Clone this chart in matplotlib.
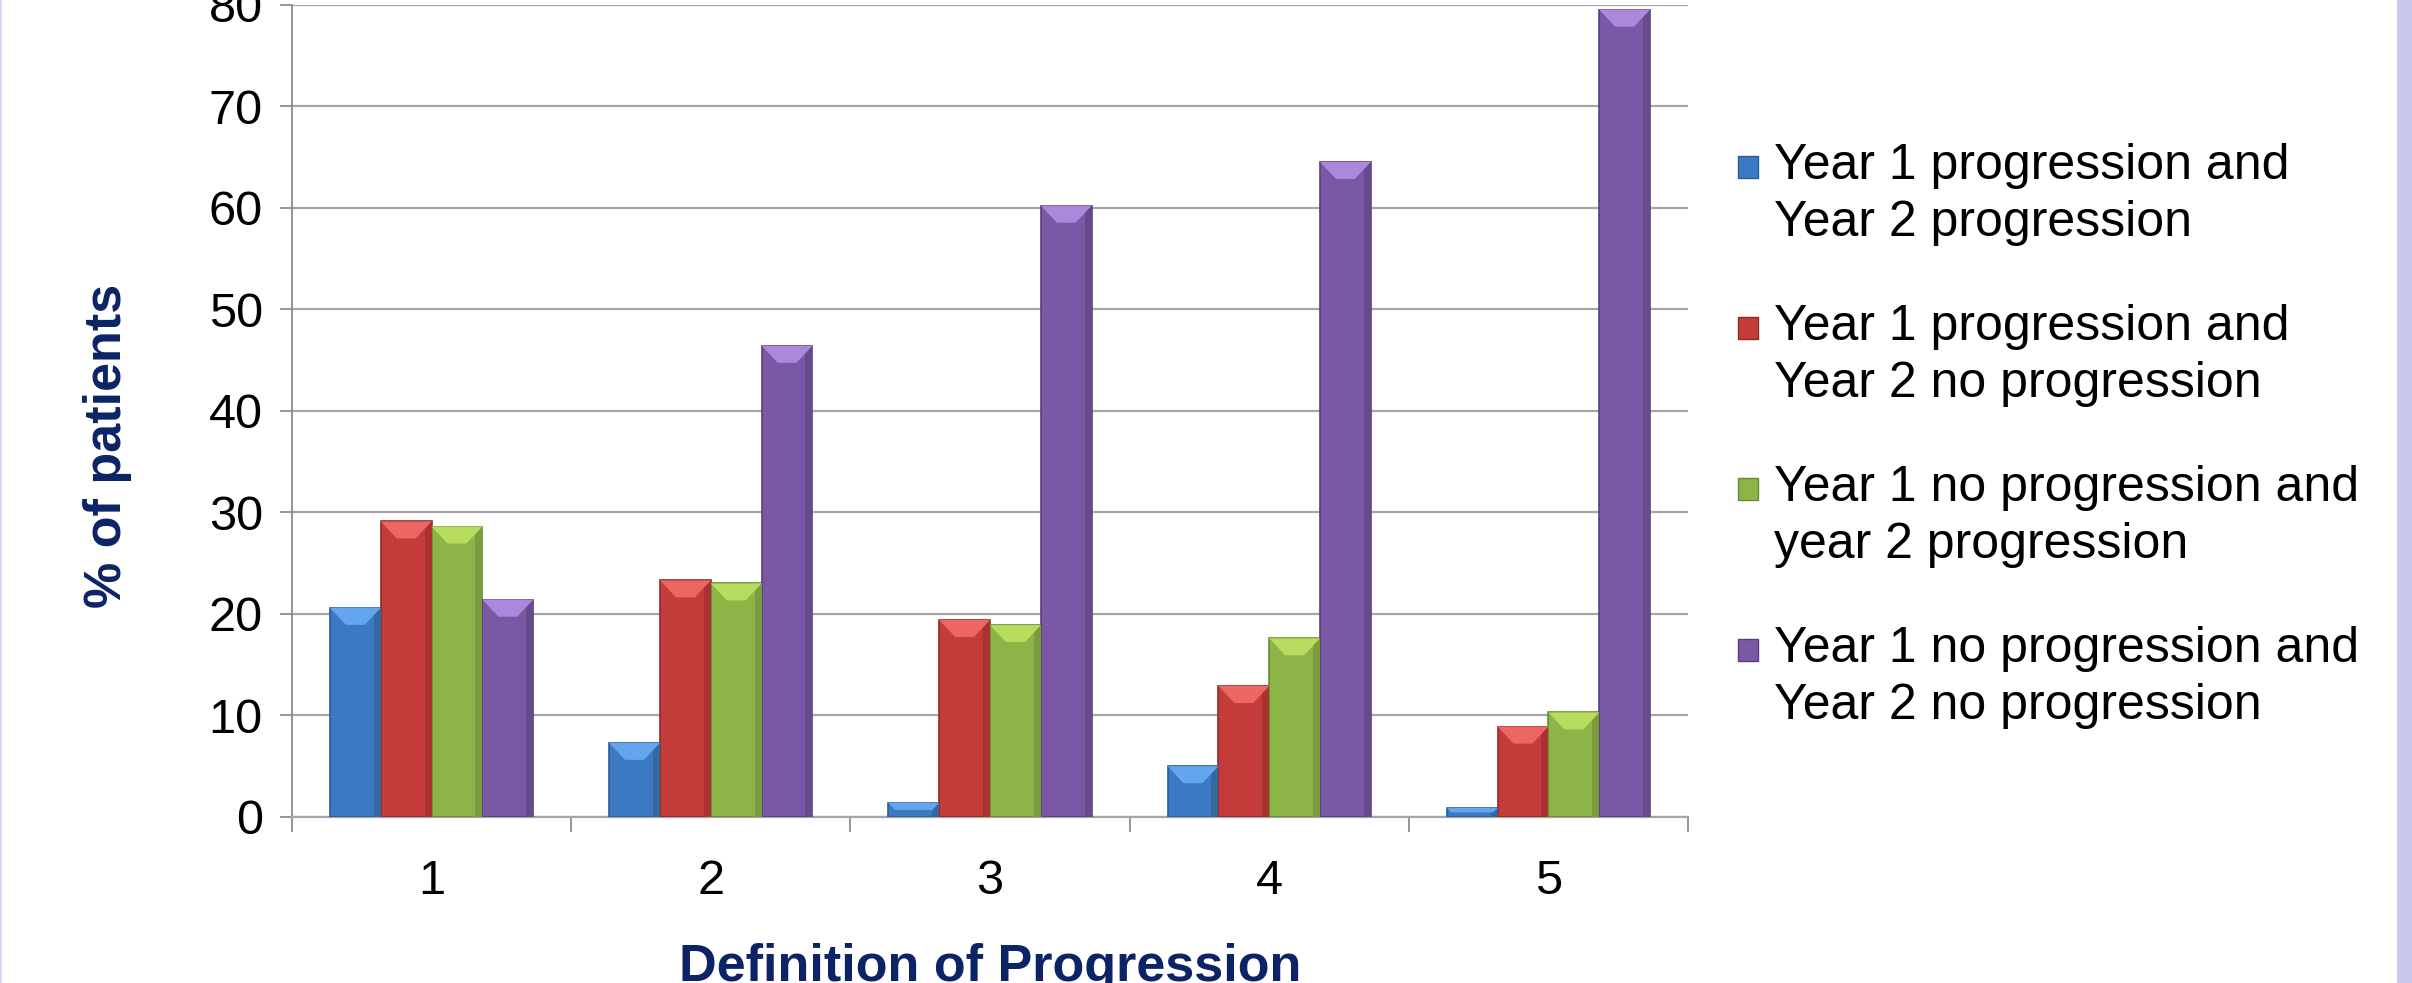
import numpy as np
import matplotlib.pyplot as plt
from matplotlib.patches import Polygon, Rectangle

plt.rcParams['font.family'] = ['Liberation Sans', 'DejaVu Sans']

definiciones = ['1', '2', '3', '4', '5']
series = [
    'Year 1 progression and\nYear 2 progression',
    'Year 1 progression and\nYear 2 no progression',
    'Year 1 no progression and\nyear 2 progression',
    'Year 1 no progression and\nYear 2 no progression',
]
prog_prog = [20.6, 7.3, 1.4, 5.0, 0.9]
prog_noprog = [29.1, 23.3, 19.4, 12.9, 8.9]
noprog_prog = [28.6, 23.0, 18.9, 17.6, 10.3]
noprog_noprog = [21.4, 46.4, 60.2, 64.5, 79.5]
valores = [prog_prog, prog_noprog, noprog_prog, noprog_noprog]

# cuerpo, bisel superior, borde
colores = ['#3B79C3', '#C43C3A', '#8DB447', '#7A58A6']
biseles = ['#63A6EE', '#EC6764', '#B8DD5E', '#AA88DC']
bordes = ['#2B5C98', '#8E2A28', '#6A8A32', '#57407A']
sombras = ['#33699F', '#A83230', '#7A9C3C', '#674A8C']

W, H = 2412, 983
fig = plt.figure(figsize=(W / 100, H / 100), dpi=100)
ax = fig.add_axes([292 / W, 1 - 817 / H, (1688 - 292) / W, (817 - 4.6) / H])

x = np.arange(1, len(definiciones) + 1)
ancho = 0.182
ax.set_xlim(0.5, len(definiciones) + 0.5)
ax.set_ylim(0, 80)

# tamaño del bisel en unidades de datos
p0 = ax.transData.transform((0, 0))
p1 = ax.transData.transform((1, 1))
bisel_y = 17 / (p1[1] - p0[1])
bisel_x = 16 / (p1[0] - p0[0])
franja = 7 / (p1[0] - p0[0])

for i, vals in enumerate(valores):
    pos = x + (i - 1.5) * ancho
    barras = ax.bar(pos, vals, width=ancho, color=colores[i], edgecolor=bordes[i],
                    linewidth=1.2, zorder=3)
    for b in barras:
        x0, x1 = b.get_x(), b.get_x() + b.get_width()
        top = b.get_height()
        bh = min(bisel_y, top * 0.5)
        dx = min(bisel_x, bh / bisel_y * bisel_x)
        # sombra en el lado derecho de la barra
        ax.add_patch(Rectangle((x1 - franja, 0), franja, top, facecolor=sombras[i],
                               edgecolor='none', zorder=3.5))
        ax.add_patch(Polygon([(x0, top), (x1, top), (x1 - dx, top - bh), (x0 + dx, top - bh)],
                             closed=True, facecolor=biseles[i], edgecolor='none', zorder=4))

ax.set_yticks(np.arange(0, 81, 10))
ax.grid(axis='y', color='#A6A6A6', linewidth=1.6, zorder=0)
ax.set_xticks(np.arange(0.5, len(definiciones) + 1, 1))
ax.set_xticklabels([])
ax.set_xticks(x, minor=True)
ax.set_xticklabels(definiciones, minor=True)
ax.tick_params(axis='x', which='major', length=11, width=1.3, color='#8C8C8C')
ax.tick_params(axis='x', which='minor', length=0, pad=30, labelsize=35)
ax.tick_params(axis='y', length=9, width=1.3, color='#8C8C8C', pad=12, labelsize=35)
for lado in ['top', 'right']:
    ax.spines[lado].set_visible(False)
ax.spines['left'].set_color('#8C8C8C')
ax.spines['left'].set_linewidth(1.3)
ax.spines['bottom'].set_color('#A6A6A6')
ax.spines['bottom'].set_linewidth(1.6)

azul_oscuro = '#0C2366'
fig.text(107 / W, 1 - 446 / H, '% of patients', rotation=90, ha='center', va='center',
         fontsize=37.5, fontweight='bold', color=azul_oscuro)
fig.text(990 / W, 0.002, 'Definition of Progression', ha='center', va='baseline',
         fontsize=37.5, fontweight='bold', color=azul_oscuro)

# leyenda a la derecha
for i, etiqueta in enumerate(series):
    base = 179 + i * 161
    fig.patches.append(Rectangle((1738 / W, 1 - (base - 1) / H), 20 / W, 22 / H,
                                 transform=fig.transFigure, facecolor=colores[i],
                                 edgecolor=bordes[i], linewidth=1))
    for j, linea in enumerate(etiqueta.split('\n')):
        fig.text(1774 / W, 1 - (base + j * 57) / H, linea, ha='left', va='baseline',
                 fontsize=36, color='black')

# bordes lavanda de la diapositiva
fig.patches.append(Rectangle((2397 / W, 0), 1, 1, transform=fig.transFigure,
                             facecolor='#C8C9EC', edgecolor='none'))
fig.patches.append(Rectangle((0, 0), 2 / W, 1, transform=fig.transFigure,
                             facecolor='#D8D8F2', edgecolor='none'))

fig.savefig('out.png', dpi=100)
